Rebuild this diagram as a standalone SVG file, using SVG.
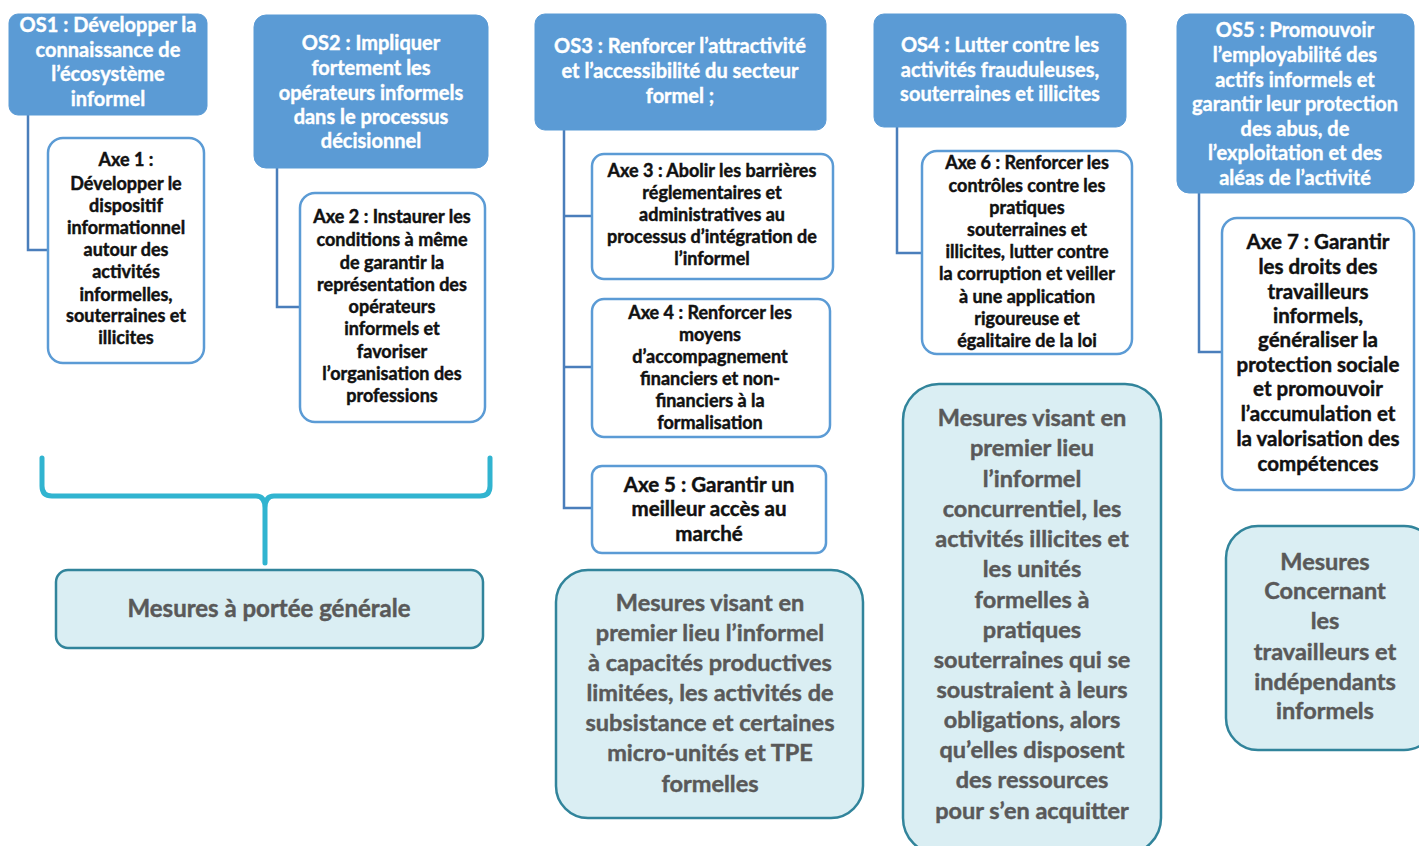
<svg xmlns="http://www.w3.org/2000/svg" width="1419" height="846" viewBox="0 0 1419 846">
<style>
.os{fill:#5b9bd5;stroke:#5b9bd5;stroke-width:1}
.axe{fill:#ffffff;stroke:#5b9bd5;stroke-width:2.5}
.mes{fill:#daeef3;stroke:#31849b;stroke-width:2.5}
.t{font-family:Lato,"Open Sans","Liberation Sans",sans-serif;font-weight:bold;text-anchor:middle}
.tos{fill:#ffffff;stroke:#ffffff;stroke-width:0.4;font-size:20px}
.tax{fill:#111111;stroke:#111111;stroke-width:0.45;font-size:18px}
.tax18{fill:#111111;stroke:#111111;stroke-width:0.45;font-size:20.5px}
.tme{fill:#595959;stroke:#595959;stroke-width:0.45;font-size:23.5px}
.con{fill:none;stroke:#4a7ebb;stroke-width:2.5}
.brace{fill:none;stroke:#31b4d0;stroke-width:5;stroke-linecap:round;stroke-linejoin:round}
</style>
<rect width="1419" height="846" fill="#ffffff"/>
<g id="connectors">
<polyline class="con" points="28,115 28,250 48,250"/>
<polyline class="con" points="277,168 277,307 300,307"/>
<polyline class="con" points="564,130 564,508 592,508"/>
<line class="con" x1="564" y1="216" x2="592" y2="216"/>
<line class="con" x1="564" y1="367" x2="592" y2="367"/>
<polyline class="con" points="897,127 897,253 922,253"/>
<polyline class="con" points="1199,193 1199,352 1222,352"/>
<path class="brace" d="M42,458 L42,486 Q42,496 52,496 L256,496 Q265,496 265,508 L265,563 M265,508 Q265,496 274,496 L480,496 Q490,496 490,486 L490,458"/>
</g>
<g id="os1">
<rect class="os" x="9" y="14" width="198" height="101" rx="9"/>
<text class="t tos"><tspan x="108" y="32">OS1 : Développer la</tspan><tspan x="108" y="57">connaissance de</tspan><tspan x="108" y="81">l’écosystème</tspan><tspan x="108" y="106">informel</tspan></text>
</g>
<g id="axe1">
<rect class="axe" x="48" y="138" width="156" height="225" rx="15"/>
<text class="t tax"><tspan x="126" y="166">Axe 1 :</tspan><tspan x="126" y="190">Développer le</tspan><tspan x="126" y="212">dispositif</tspan><tspan x="126" y="234">informationnel</tspan><tspan x="126" y="256">autour des</tspan><tspan x="126" y="278">activités</tspan><tspan x="126" y="301">informelles,</tspan><tspan x="126" y="322">souterraines et</tspan><tspan x="126" y="344">illicites</tspan></text>
</g>
<g id="os2">
<rect class="os" x="254" y="15" width="234" height="153" rx="12"/>
<text class="t tos"><tspan x="371" y="50">OS2 : Impliquer</tspan><tspan x="371" y="75">fortement les</tspan><tspan x="371" y="100">opérateurs informels</tspan><tspan x="371" y="124">dans le processus</tspan><tspan x="371" y="148">décisionnel</tspan></text>
</g>
<g id="axe2">
<rect class="axe" x="300" y="193" width="185" height="229" rx="15"/>
<text class="t tax"><tspan x="392" y="223">Axe 2 : Instaurer les</tspan><tspan x="392" y="246">conditions à même</tspan><tspan x="392" y="269">de garantir la</tspan><tspan x="392" y="291">représentation des</tspan><tspan x="392" y="313">opérateurs</tspan><tspan x="392" y="335">informels et</tspan><tspan x="392" y="358">favoriser</tspan><tspan x="392" y="380">l’organisation des</tspan><tspan x="392" y="402">professions</tspan></text>
</g>
<g id="os3">
<rect class="os" x="535" y="14" width="291" height="116" rx="10"/>
<text class="t tos"><tspan x="680" y="53">OS3 : Renforcer l’attractivité</tspan><tspan x="680" y="78">et l’accessibilité du secteur</tspan><tspan x="680" y="103">formel ;</tspan></text>
</g>
<g id="axe3">
<rect class="axe" x="592" y="154" width="241" height="125" rx="12"/>
<text class="t tax"><tspan x="712" y="177">Axe 3 : Abolir les barrières</tspan><tspan x="712" y="199">réglementaires et</tspan><tspan x="712" y="221">administratives au</tspan><tspan x="712" y="243">processus d’intégration de</tspan><tspan x="712" y="265">l’informel</tspan></text>
</g>
<g id="axe4">
<rect class="axe" x="592" y="299" width="238" height="138" rx="12"/>
<text class="t tax"><tspan x="710" y="319">Axe 4 : Renforcer les</tspan><tspan x="710" y="341">moyens</tspan><tspan x="710" y="363">d’accompagnement</tspan><tspan x="710" y="385">financiers et non-</tspan><tspan x="710" y="407">financiers à la</tspan><tspan x="710" y="429">formalisation</tspan></text>
</g>
<g id="axe5">
<rect class="axe" x="592" y="466" width="234" height="87" rx="10"/>
<text class="t tax18"><tspan x="709" y="492">Axe 5 : Garantir un</tspan><tspan x="709" y="516">meilleur accès au</tspan><tspan x="709" y="541">marché</tspan></text>
</g>
<g id="os4">
<rect class="os" x="874" y="14" width="252" height="113" rx="10"/>
<text class="t tos"><tspan x="1000" y="52">OS4 : Lutter contre les</tspan><tspan x="1000" y="77">activités frauduleuses,</tspan><tspan x="1000" y="101">souterraines et illicites</tspan></text>
</g>
<g id="axe6">
<rect class="axe" x="922" y="151" width="210" height="203" rx="15"/>
<text class="t tax"><tspan x="1027" y="169">Axe 6 : Renforcer les</tspan><tspan x="1027" y="192">contrôles contre les</tspan><tspan x="1027" y="214">pratiques</tspan><tspan x="1027" y="236">souterraines et</tspan><tspan x="1027" y="258">illicites, lutter contre</tspan><tspan x="1027" y="280">la corruption et veiller</tspan><tspan x="1027" y="303">à une application</tspan><tspan x="1027" y="325">rigoureuse et</tspan><tspan x="1027" y="347">égalitaire de la loi</tspan></text>
</g>
<g id="os5">
<rect class="os" x="1177" y="14" width="237" height="179" rx="12"/>
<text class="t tos"><tspan x="1295" y="37">OS5 : Promouvoir</tspan><tspan x="1295" y="62">l’employabilité des</tspan><tspan x="1295" y="87">actifs informels et</tspan><tspan x="1295" y="111">garantir leur protection</tspan><tspan x="1295" y="136">des abus, de</tspan><tspan x="1295" y="160">l’exploitation et des</tspan><tspan x="1295" y="185">aléas de l’activité</tspan></text>
</g>
<g id="axe7">
<rect class="axe" x="1222" y="218" width="192" height="272" rx="15"/>
<text class="t tax18"><tspan x="1318" y="249">Axe 7 : Garantir</tspan><tspan x="1318" y="274">les droits des</tspan><tspan x="1318" y="299">travailleurs</tspan><tspan x="1318" y="323">informels,</tspan><tspan x="1318" y="347">généraliser la</tspan><tspan x="1318" y="372">protection sociale</tspan><tspan x="1318" y="396">et promouvoir</tspan><tspan x="1318" y="421">l’accumulation et</tspan><tspan x="1318" y="446">la valorisation des</tspan><tspan x="1318" y="471">compétences</tspan></text>
</g>
<g id="mesures-generale">
<rect class="mes" x="56" y="570" width="427" height="78" rx="12"/>
<text class="t tme" style="font-size:24px"><tspan x="269" y="617">Mesures à portée générale</tspan></text>
</g>
<g id="mesures-os3">
<rect class="mes" x="556" y="570" width="307" height="248" rx="32"/>
<text class="t tme"><tspan x="710" y="611">Mesures visant en</tspan><tspan x="710" y="641">premier lieu l’informel</tspan><tspan x="710" y="671">à capacités productives</tspan><tspan x="710" y="701">limitées, les activités de</tspan><tspan x="710" y="731">subsistance et certaines</tspan><tspan x="710" y="761">micro-unités et TPE</tspan><tspan x="710" y="792">formelles</tspan></text>
</g>
<g id="mesures-os4">
<rect class="mes" x="903" y="384" width="258" height="470" rx="36"/>
<text class="t tme"><tspan x="1032" y="426">Mesures visant en</tspan><tspan x="1032" y="456">premier lieu</tspan><tspan x="1032" y="487">l’informel</tspan><tspan x="1032" y="517">concurrentiel, les</tspan><tspan x="1032" y="547">activités illicites et</tspan><tspan x="1032" y="577">les unités</tspan><tspan x="1032" y="608">formelles à</tspan><tspan x="1032" y="638">pratiques</tspan><tspan x="1032" y="668">souterraines qui se</tspan><tspan x="1032" y="698">soustraient à leurs</tspan><tspan x="1032" y="728">obligations, alors</tspan><tspan x="1032" y="758">qu’elles disposent</tspan><tspan x="1032" y="788">des ressources</tspan><tspan x="1032" y="819">pour s’en acquitter</tspan></text>
</g>
<g id="mesures-os5">
<rect class="mes" x="1226" y="526" width="210" height="224" rx="32"/>
<text class="t tme"><tspan x="1325" y="570">Mesures</tspan><tspan x="1325" y="599">Concernant</tspan><tspan x="1325" y="629">les</tspan><tspan x="1325" y="660">travailleurs et</tspan><tspan x="1325" y="690">indépendants</tspan><tspan x="1325" y="719">informels</tspan></text>
</g>
</svg>
